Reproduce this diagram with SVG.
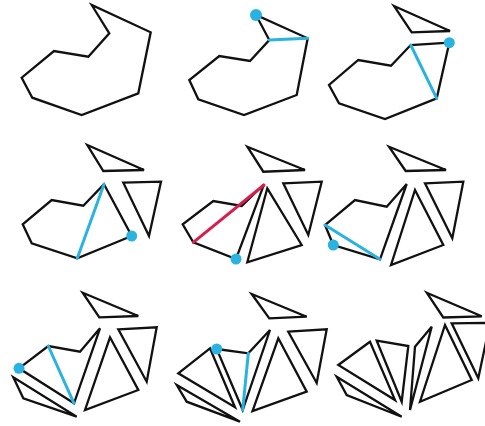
<svg xmlns="http://www.w3.org/2000/svg" width="485" height="426" viewBox="0 0 485 426">
<style>
.s{fill:none;stroke:#111;stroke-width:2.3;stroke-linejoin:miter}
.c{fill:none;stroke:#2ab3e0;stroke-width:3;stroke-linecap:round}
.r{fill:none;stroke:#d81e4f;stroke-width:3;stroke-linecap:round}
.d{fill:#2ab3e0}
</style>
<rect width="485" height="426" fill="#fff"/>
<g id="panel1">
<polygon class="s" points="91.7,5 109.3,33.3 88.3,56.7 54,51 21.7,77.7 32.3,97.7 81.7,115 138.3,93.3 150.7,32.3"/>
</g>
<g id="panel2">
<polygon class="s" points="256,15 269.3,40 250,61 219.3,56 189.3,80 198.3,99.3 244,115 296.7,95 307.7,38.3"/>
<line class="c" x1="269.3" y1="40" x2="307.7" y2="38.3"/>
<circle class="d" cx="256" cy="15" r="6"/>
</g>
<g id="panel3">
<polygon class="s" points="394,6 450,31 411.7,32.3"/>
<polygon class="s" points="449.3,42.7 410.7,45 391,65.7 358.3,60 329,85 339,103.3 385,119 436.7,98.3"/>
<line class="c" x1="410.7" y1="45" x2="436.7" y2="98.3"/>
<circle class="d" cx="449.3" cy="42.7" r="5.5"/>
</g>
<g id="panel4">
<polygon class="s" points="87.3,145 144,170 103.3,171"/>
<polygon class="s" points="123.3,182.7 161,181.7 149,236"/>
<polygon class="s" points="104,184.3 131.7,236 77.3,258.3 31.7,243.3 22.7,224.3 51.7,200 83.3,205.7"/>
<line class="c" x1="104" y1="184.3" x2="77.3" y2="258.3"/>
<circle class="d" cx="131.7" cy="236" r="5.5"/>
</g>
<g id="panel5">
<polygon class="s" points="247.3,146.7 305,170 263.3,171.7"/>
<polygon class="s" points="283.3,183.3 321.7,181.7 308.3,235"/>
<polygon class="s" points="267.3,188.3 301.7,245 247.3,262.3"/>
<polygon class="s" points="264,184.3 236,259 193.3,242.3 182.7,224.3 213.3,201 241.7,206"/>
<line class="r" x1="193.3" y1="242.3" x2="264" y2="185"/>
<circle class="d" cx="236" cy="259" r="5.5"/>
</g>
<g id="panel6">
<polygon class="s" points="389,146.7 446,170 405.7,171"/>
<polygon class="s" points="425,183.3 463.3,181.7 452.3,238.3"/>
<polygon class="s" points="415,190 443.3,245 391,265"/>
<polygon class="s" points="406.7,184 380,259.3 333.3,245 325,225 355,200 386.7,206.7"/>
<line class="c" x1="325" y1="225" x2="380" y2="259.3"/>
<circle class="d" cx="333.3" cy="245" r="5.5"/>
</g>
<g id="panel7">
<polygon class="s" points="82.7,292.7 138.3,316 99.3,317.3"/>
<polygon class="s" points="118.3,329.3 156.7,327.3 146.7,381.7"/>
<polygon class="s" points="110,337.3 138.3,390 85,410"/>
<polygon class="s" points="13.3,377.3 23.3,398.3 76.7,416.7"/>
<polygon class="s" points="100,328.3 74,403.3 19,368.3 48.3,346 80,351.7"/>
<line class="c" x1="48.3" y1="346" x2="74" y2="403.3"/>
<circle class="d" cx="19" cy="368.3" r="5.5"/>
</g>
<g id="panel8">
<polygon class="s" points="251.7,294 306.7,316.7 269.3,318.3"/>
<polygon class="s" points="288.3,331.7 326.7,329.3 316.7,383"/>
<polygon class="s" points="278.3,338.3 306.7,391.7 252.5,411"/>
<polygon class="s" points="210,348.3 178.3,373.3 235,407.3"/>
<polygon class="s" points="176.7,385 186.7,401.7 240,421.7"/>
<polygon class="s" points="216.7,349 248.3,353.3 270,330 242.7,410"/>
<line class="c" x1="248.3" y1="353.3" x2="242.7" y2="410"/>
<circle class="d" cx="216.7" cy="349" r="5.5"/>
</g>
<g id="panel9">
<polygon class="s" points="426.7,292.7 481.7,316.3 443.3,317.5"/>
<polygon class="s" points="451.7,323.3 490,322.7 478.3,378.3"/>
<polygon class="s" points="445,325 471.7,380 420,401.7"/>
<polygon class="s" points="431.7,326.7 415,346.7 410,410"/>
<polygon class="s" points="376.7,340.7 408.3,346 401.7,401.7"/>
<polygon class="s" points="370,341.7 338.3,365 395,400"/>
<polygon class="s" points="336.7,376.7 346.7,395 401.7,416.7"/>
</g>
</svg>
